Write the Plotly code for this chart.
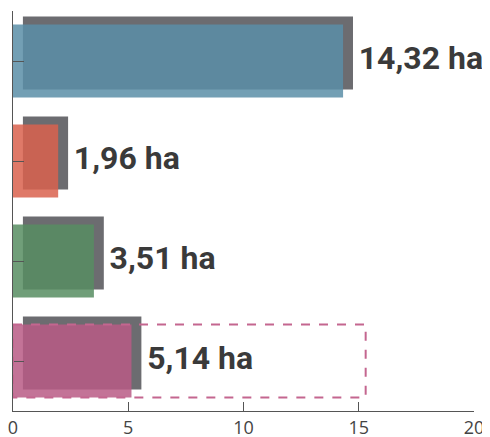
import plotly.graph_objects as go

# ---------- data ----------
categories = ["A", "B", "C", "D"]
values = [14.32, 1.96, 3.51, 5.14]
labels = ["14,32 ha", "1,96 ha", "3,51 ha", "5,14 ha"]
bar_colors = ["#5b8ea7", "#d9614d", "#578d62", "#b95a85"]
target_value = 15.3          # dashed outline on the last bar
x_ticks = [0, 5, 10, 15, 20]

# ---------- style ----------
bar_w = 0.73
shadow_dx = 0.43             # shadow shift to the right (x units)
shadow_dy = 0.08             # shadow shift upward (category units)

pos = list(range(len(categories)))

fig = go.Figure()

# gray drop shadow
fig.add_trace(go.Bar(
    y=[p - shadow_dy for p in pos],
    x=values,
    base=shadow_dx,
    orientation="h",
    width=bar_w,
    marker=dict(color="rgba(95,95,100,0.92)", line=dict(width=0)),
    hoverinfo="skip",
    showlegend=False,
))

# coloured bars
fig.add_trace(go.Bar(
    y=pos,
    x=values,
    orientation="h",
    width=bar_w,
    marker=dict(color=bar_colors, opacity=0.85, line=dict(width=0)),
    showlegend=False,
))

# value labels
fig.add_trace(go.Scatter(
    y=pos,
    x=[v + shadow_dx + 0.25 for v in values],
    mode="text",
    text=labels,
    textposition="middle right",
    textfont=dict(family="Roboto", size=32, color="#3a3a3a", weight="bold"),
    cliponaxis=False,
    hoverinfo="skip",
    showlegend=False,
))

# dashed target box on the last bar
fig.add_shape(
    type="rect",
    x0=0, x1=target_value,
    y0=pos[-1] - bar_w / 2, y1=pos[-1] + bar_w / 2,
    line=dict(color="#c4668f", width=2, dash="dash"),
    fillcolor="rgba(0,0,0,0)",
)

# page body has an 8px margin, so the figure is a bit smaller
fig.update_layout(
    width=482,
    height=429,
    margin=dict(l=5, r=16, t=3, b=26),
    plot_bgcolor="white",
    paper_bgcolor="white",
    barmode="overlay",
    font=dict(family="Open Sans", color="#444"),
)

fig.update_xaxes(
    range=[0, 20],
    tickvals=x_ticks,
    ticks="inside",
    ticklen=9,
    tickcolor="#555",
    showline=True,
    linecolor="#555",
    linewidth=1,
    showgrid=False,
    zeroline=False,
    automargin=False,
    ticklabeloverflow="allow",
    tickfont=dict(size=18, color="#444"),
)

fig.update_yaxes(
    range=[len(categories) - 0.5, -0.5],
    tickvals=pos,
    showticklabels=False,
    ticks="inside",
    ticklen=11,
    tickcolor="#555",
    showline=True,
    linecolor="#555",
    linewidth=1,
    showgrid=False,
    zeroline=False,
    automargin=False,
)

fig.write_html("out.html")
